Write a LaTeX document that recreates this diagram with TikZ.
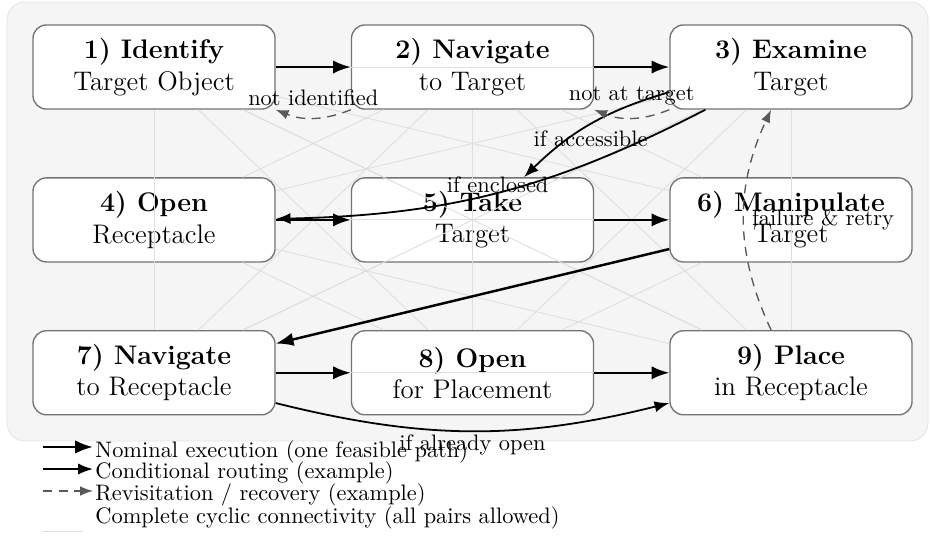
\documentclass[tikz,border=0pt]{standalone}
\usetikzlibrary{arrows.meta}
\begin{document}
\begin{tikzpicture}[
  box/.style={draw=black!55, line width=0.6pt, fill=white, rounded corners=6pt,
    minimum width=3.8cm, minimum height=1.32cm, align=center, font=\large, inner sep=2pt},
  allpairs/.style={draw=black!13, line width=0.4pt},
  nominal/.style={draw=black, line width=1.1pt, -{Latex}},
  cond/.style={draw=black, line width=0.8pt, -{Latex}},
  revisit/.style={draw=black!65, line width=0.6pt, dash pattern=on 4pt off 3pt, -{Latex}},
  lbl/.style={font=\normalsize, text=black},
  legtext/.style={anchor=west, inner sep=0pt, font=\normalsize},
]
\useasboundingbox (-2.418,1.052) rectangle (12.182,-7.441);
\draw[fill=black!4, draw=black!10, rounded corners=8pt] (-2.308,1.02) rectangle (12.151,-5.871);

% nodes
\node[box] (n1) at (0,0)     {\textbf{1) Identify}\\Target Object};
\node[box] (n2) at (5,0)     {\textbf{2) Navigate}\\to Target};
\node[box] (n3) at (10,0)    {\textbf{3) Examine}\\Target};
\node[box] (n4) at (0,-2.4)  {\textbf{4) Open}\\Receptacle};
\node[box] (n5) at (5,-2.4)  {\textbf{5) Take}\\Target};
\node[box] (n6) at (10,-2.4) {\textbf{6) Manipulate}\\Target};
\node[box] (n7) at (0,-4.8)  {\textbf{7) Navigate}\\to Receptacle};
\node[box] (n8) at (5,-4.8)  {\textbf{8) Open}\\for Placement};
\node[box] (n9) at (10,-4.8) {\textbf{9) Place}\\in Receptacle};

% complete connectivity
\foreach \i in {1,...,8} {
  \pgfmathtruncatemacro{\s}{\i+1}
  \foreach \j in {\s,...,9} {
    \draw[allpairs] (n\i) -- (n\j);
  }
}

% nominal execution
\draw[nominal] (n1) -- (n2);
\draw[nominal] (n2) -- (n3);
\draw[nominal] (n4) -- (n5);
\draw[nominal] (n5) -- (n6);
\draw[nominal] (n6) -- (n7);
\draw[nominal] (n7) -- (n8);
\draw[nominal] (n8) -- (n9);

% conditional routing
\draw[cond] (n3) to[bend right=14] node[below=-1pt, lbl] {if accessible} (n5);
\draw[cond] (n3) to[bend left=13] node[anchor=base, lbl] {if enclosed} (n4);
\draw[cond] (n7) to[bend right=14] node[below=-2pt, lbl] {if already open} (n9);

% revisitation
\draw[revisit] (n2.south west) to[bend left=22] node[above=2pt, lbl] {not identified} (n1.south east);
\draw[revisit] (n3.south west) to[bend left=22] node[above=2pt, lbl] {not at target} (n2.south east);
\draw[revisit] (n9) to[bend left=25] node[right, lbl] {failure \& retry} (n3);

% legend
\coordinate (la1) at (-1.743,-5.965); \coordinate (lb1) at (-0.958,-5.965);
\coordinate (la2) at (-1.743,-6.311); \coordinate (lb2) at (-0.958,-6.311);
\coordinate (la3) at (-1.743,-6.656); \coordinate (lb3) at (-0.958,-6.656);
\coordinate (la4) at (-1.743,-7.284); \coordinate (lb4) at (-1.115,-7.284);
\draw[nominal] (la1) -- (lb1);
\draw[cond] (la2) -- (lb2);
\draw[revisit] (la3) -- (lb3);
\draw[allpairs] (la4) -- (lb4);
\node[legtext] (lg1) at (-0.926,-6.044) {Nominal execution (one feasible path)};
\node[legtext] (lg2) at (-0.926,-6.374) {Conditional routing (example)};
\node[legtext] (lg3) at (-0.926,-6.719) {Revisitation / recovery (example)};
\node[legtext] (lg4) at (-0.926,-7.080) {Complete cyclic connectivity (all pairs allowed)};
\end{tikzpicture}
\end{document}
